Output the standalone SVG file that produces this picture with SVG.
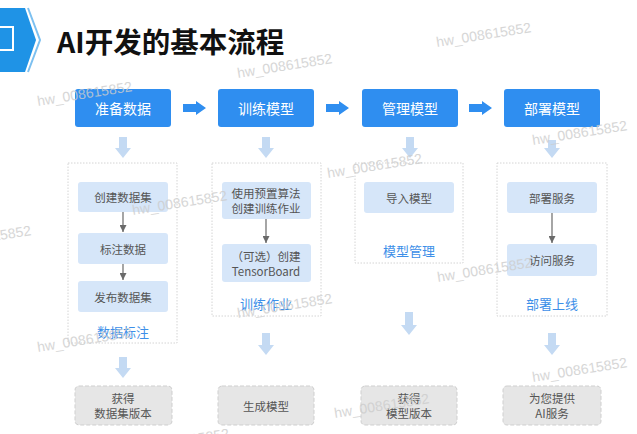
<svg xmlns="http://www.w3.org/2000/svg" width="637" height="434" viewBox="0 0 637 434">
<defs>
<style>
.cjk{font-family:"Noto Sans CJK SC","Noto Sans",sans-serif}
.top rect{fill:#2f8ef0}
.top text{fill:#fff;font-size:14px;text-anchor:middle;dominant-baseline:central}
.cont{fill:none;stroke:#d4d4d4;stroke-width:1;stroke-dasharray:1.5 1.5}
.inner{fill:#d6e6f9}
.it{fill:#555;font-size:11.5px;text-anchor:middle;dominant-baseline:central}
.lbl{fill:#3d8fe8;font-size:13px;text-anchor:middle;dominant-baseline:central}
.bot{fill:#e6e6e6;stroke:#cfcfcf;stroke-width:1;stroke-dasharray:4 2}
.bt{fill:#555;font-size:11.5px;text-anchor:middle;dominant-baseline:central}
.rarr{fill:#2f8ef0}
.darr{fill:#c4daf3}
.conn{stroke:#6a6a6a;stroke-width:1.2;fill:none;marker-end:url(#ah)}
.wm{font-family:"Liberation Sans",Arial,sans-serif;font-size:14px;fill:#cdcdcd;opacity:0.8}
</style>
<marker id="ah" markerUnits="userSpaceOnUse" markerWidth="7" markerHeight="7" refX="7" refY="3.5" orient="auto">
<path d="M0,0 L7,3.5 L0,7 Z" fill="#6a6a6a"/>
</marker>
</defs>
<rect width="637" height="434" fill="#fff"/>

<g id="header">
<polygon points="0,8 25,8 36,40 25,72 0,72" fill="#1f93e6"/>
<polyline points="28,8 40,40 28,72" fill="none" stroke="#7cc0f0" stroke-width="2"/>
<polyline points="-2,27 13,27 13,50 -2,50" fill="none" stroke="#fff" stroke-width="2"/>
<text class="cjk" x="57" y="40" font-size="28.5" font-weight="bold" fill="#111" dominant-baseline="central">AI开发的基本流程</text>
</g>

<g id="node-prepare" class="top cjk"><rect x="75" y="89" width="96" height="38" rx="3"/><text x="123" y="108">准备数据</text></g>
<g id="node-train" class="top cjk"><rect x="218" y="89" width="96" height="38" rx="3"/><text x="266" y="108">训练模型</text></g>
<g id="node-manage" class="top cjk"><rect x="362" y="89" width="96" height="38" rx="3"/><text x="410" y="108">管理模型</text></g>
<g id="node-deploy" class="top cjk"><rect x="504" y="89" width="96" height="38" rx="3"/><text x="552" y="108">部署模型</text></g>

<g id="col-label" class="cjk">
<rect class="cont" x="68" y="163" width="109" height="180"/>
<g id="n-create-ds"><rect class="inner" x="78" y="182" width="90" height="30" rx="3"/><text class="it" x="123" y="197">创建数据集</text></g>
<g id="n-label-data"><rect class="inner" x="78" y="233" width="90" height="31" rx="3"/><text class="it" x="123" y="248.5">标注数据</text></g>
<g id="n-publish-ds"><rect class="inner" x="78" y="281" width="90" height="31" rx="3"/><text class="it" x="123" y="296.5">发布数据集</text></g>
<text class="lbl" x="123" y="331">数据标注</text>
</g>

<g id="col-train" class="cjk">
<rect class="cont" x="212" y="163" width="109" height="153"/>
<g id="n-create-job"><rect class="inner" x="222" y="182" width="89" height="37" rx="3"/><text class="it" x="266" y="193">使用预置算法</text><text class="it" x="266" y="207.5">创建训练作业</text></g>
<g id="n-tb"><rect class="inner" x="222" y="244" width="89" height="38" rx="3"/><text class="it" x="266" y="256">（可选）创建</text><text class="it" x="266" y="270.5">TensorBoard</text></g>
<text class="lbl" x="266" y="303">训练作业</text>
</g>

<g id="col-manage" class="cjk">
<rect class="cont" x="355" y="163" width="108" height="100"/>
<g id="n-import"><rect class="inner" x="364" y="182" width="90" height="31" rx="3"/><text class="it" x="409" y="197.5">导入模型</text></g>
<text class="lbl" x="409" y="250">模型管理</text>
</g>

<g id="col-deploy" class="cjk">
<rect class="cont" x="497" y="163" width="110" height="153"/>
<g id="n-deploy-svc"><rect class="inner" x="507" y="182" width="90" height="31" rx="3"/><text class="it" x="552" y="197.5">部署服务</text></g>
<g id="n-access-svc"><rect class="inner" x="507" y="244" width="90" height="32" rx="3"/><text class="it" x="552" y="260">访问服务</text></g>
<text class="lbl" x="552" y="303">部署上线</text>
</g>

<g id="out-ds" class="cjk"><rect class="bot" x="75" y="386" width="97" height="39" rx="4"/><text class="bt" x="123" y="398">获得</text><text class="bt" x="123" y="413">数据集版本</text></g>
<g id="out-model" class="cjk"><rect class="bot" x="218" y="386" width="96" height="39" rx="4"/><text class="bt" x="266" y="405.5">生成模型</text></g>
<g id="out-version" class="cjk"><rect class="bot" x="361" y="386" width="96" height="39" rx="4"/><text class="bt" x="409" y="398">获得</text><text class="bt" x="409" y="413">模型版本</text></g>
<g id="out-service" class="cjk"><rect class="bot" x="503" y="386" width="98" height="39" rx="4"/><text class="bt" x="552" y="398">为您提供</text><text class="bt" x="552" y="413">AI服务</text></g>

<g id="connectors">
<path class="rarr" d="M183 104 H196 V101 L206 108 L196 115 V112 H183 Z"/>
<path class="rarr" d="M326 104 H339 V101 L349 108 L339 115 V112 H326 Z"/>
<path class="rarr" d="M469 104 H482 V101 L492 108 L482 115 V112 H469 Z"/>
<path class="darr" d="M119 137 H127 V148 H131 L123 158 L115 148 H119 Z"/>
<path class="darr" d="M262 137 H270 V148 H274 L266 158 L258 148 H262 Z"/>
<path class="darr" d="M406 137 H414 V148 H418 L410 158 L402 148 H406 Z"/>
<path class="darr" d="M548 140 H556 V148 H560 L552 158 L544 148 H548 Z"/>
<path class="darr" d="M119 357 H127 V368 H131 L123 378 L115 368 H119 Z"/>
<path class="darr" d="M262 333 H270 V345 H274 L266 355 L258 345 H262 Z"/>
<path class="darr" d="M405 312 H413 V325 H417 L409 335 L401 325 H405 Z"/>
<path class="darr" d="M548 333 H556 V345 H560 L552 355 L544 345 H548 Z"/>
<line class="conn" x1="123" y1="212" x2="123" y2="232"/>
<line class="conn" x1="123" y1="264" x2="123" y2="280"/>
<line class="conn" x1="266" y1="219" x2="266" y2="243"/>
<line class="conn" x1="552" y1="213" x2="552" y2="243"/>
</g>

<g id="watermarks">
<text class="wm" transform="translate(238,78) rotate(-9)">hw_008615852</text>
<text class="wm" transform="translate(437,47) rotate(-9)">hw_008615852</text>
<text class="wm" transform="translate(38,106) rotate(-9)">hw_008615852</text>
<text class="wm" transform="translate(533,145) rotate(-9)">hw_008615852</text>
<text class="wm" transform="translate(328,178) rotate(-9)">hw_008615852</text>
<text class="wm" transform="translate(133,215) rotate(-9)">hw_008615852</text>
<text class="wm" transform="translate(-63,250) rotate(-9)">hw_008615852</text>
<text class="wm" transform="translate(438,282) rotate(-9)">hw_008615852</text>
<text class="wm" transform="translate(238,318) rotate(-9)">hw_008615852</text>
<text class="wm" transform="translate(38,352) rotate(-9)">hw_008615852</text>
<text class="wm" transform="translate(335,418) rotate(-9)">hw_008615852</text>
<text class="wm" transform="translate(533,382) rotate(-9)">hw_008615852</text>
<text class="wm" transform="translate(135,453) rotate(-9)">hw_008615852</text>
</g>
</svg>
